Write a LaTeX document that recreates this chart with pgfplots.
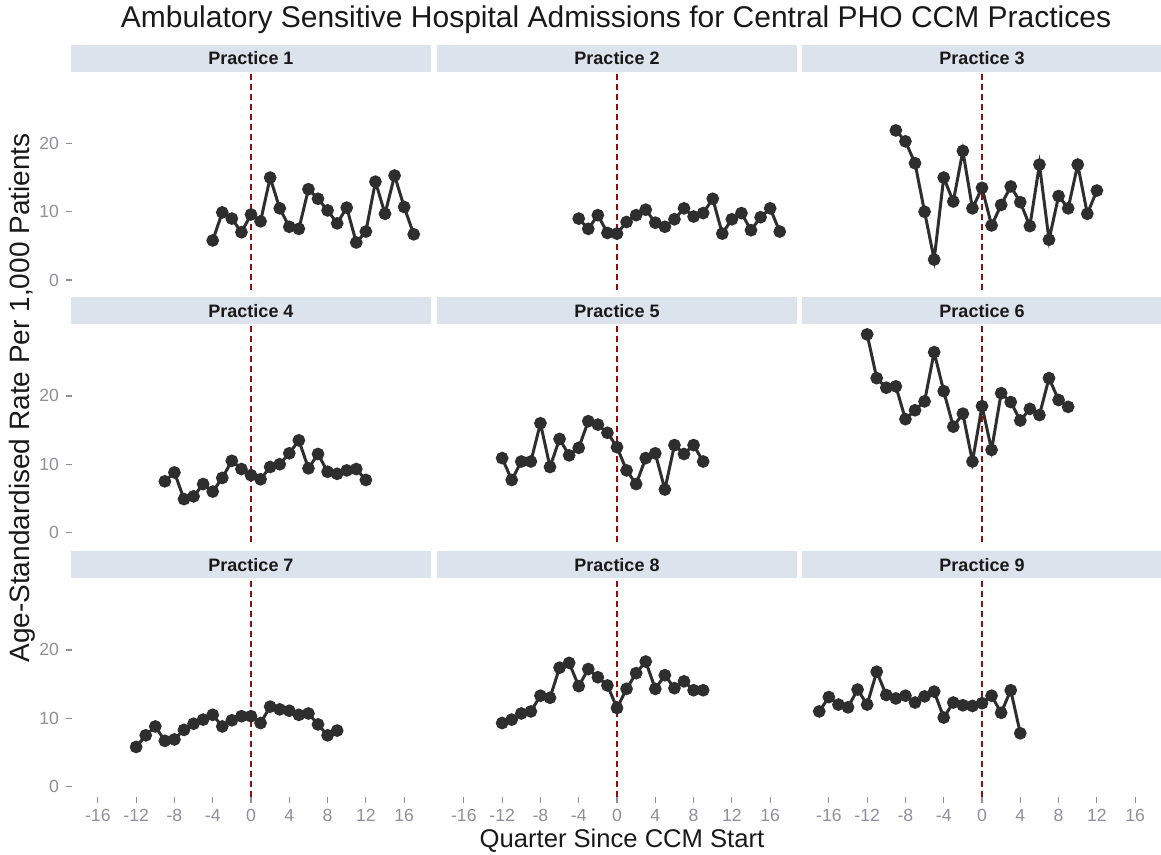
\documentclass[border=0pt]{standalone}
\usepackage{fontspec}
\setmainfont{Liberation Sans}
\usepackage{pgfplots}
\pgfplotsset{compat=1.18}

\definecolor{stripbg}{HTML}{DDE3EC}
\definecolor{tickgray}{HTML}{8E8E9E}
\definecolor{vred}{HTML}{8B1010}
\definecolor{ptcol}{HTML}{2E2E2E}

\pgfplotsset{
  panel/.style={
    scale only axis, width=179pt, height=109pt,
    xmin=-18.7, xmax=18.7, ymin=-1.45, ymax=30.45,
    axis x line*=bottom, axis y line*=left,
    axis line style={draw=none},
    tick align=outside, major tick length=3pt,
    tick style={tickgray, line width=0.6pt},
    xtick=\empty, ytick=\empty,
    ticklabel style={font=\fontsize{8.8}{10}\selectfont, text=tickgray},
    /pgf/number format/assume math mode=true,
    clip=false, anchor=north west,
  },
  leftcol/.style={ytick={0,10,20}},
  bottomrow/.style={xtick={-16,-12,...,16}},
  series/.style={ptcol, line width=1.5pt, mark=*, mark size=2.4pt,
    mark options={fill=ptcol, draw=ptcol, solid}},
  vline/.style={vred, dashed, line width=1pt, dash pattern=on 3pt off 2pt},
}
\newcommand{\strip}[1]{%
  \node[fill=stripbg, minimum width=180pt, minimum height=13.5pt, inner sep=0pt,
    anchor=south, font=\bfseries\fontsize{9}{10}\selectfont, text=black!90]
    at (rel axis cs:0.5,1) {#1};}

\begin{document}
\begin{tikzpicture}
\useasboundingbox (0,0) rectangle (580.5pt,-427.5pt);

\node[font=\fontsize{15}{17}\selectfont, text=black!90] at (308pt,-10pt)
  {Ambulatory Sensitive Hospital Admissions for Central PHO CCM Practices};
\node[rotate=90, font=\fontsize{14}{16}\selectfont, text=black!90] at (11pt,-199pt)
  {Age-Standardised Rate Per 1,000 Patients};
\node[font=\fontsize{12.8}{14}\selectfont, text=black!90] at (311pt,-420.5pt)
  {Quarter Since CCM Start};

% Row 1
\begin{axis}[panel, leftcol, at={(36pt,-36pt)}]
\addplot[series] coordinates {
(-4,5.8) (-3,9.9) (-2,9.0) (-1,7.0) (0,9.6) (1,8.6) (2,15.0) (3,10.5) (4,7.8) (5,7.5) (6,13.3)
(7,11.9) (8,10.2) (9,8.3) (10,10.6) (11,5.5) (12,7.1) (13,14.4) (14,9.7) (15,15.3) (16,10.7) (17,6.7)};
\addplot[vline] coordinates {(0,-1.45) (0,30.45)};
\strip{Practice 1}
\end{axis}

\begin{axis}[panel, at={(219pt,-36pt)}]
\addplot[series] coordinates {
(-4,9.0) (-3,7.5) (-2,9.5) (-1,6.9) (0,6.8) (1,8.5) (2,9.5) (3,10.3) (4,8.4) (5,7.8) (6,8.9)
(7,10.5) (8,9.3) (9,9.8) (10,11.9) (11,6.8) (12,8.9) (13,9.8) (14,7.3) (15,9.2) (16,10.5) (17,7.1)};
\addplot[vline] coordinates {(0,-1.45) (0,30.45)};
\strip{Practice 2}
\end{axis}

\begin{axis}[panel, at={(401.5pt,-36pt)}]
\addplot[series] coordinates {
(-9,21.9) (-8,20.3) (-7,17.1) (-6,10.0) (-5,3.0) (-4,15.0) (-3,11.5) (-2,18.9) (-1,10.5) (0,13.5)
(1,8.0) (2,11.0) (3,13.7) (4,11.4) (5,7.9) (6,16.9) (7,5.9) (8,12.3) (9,10.5) (10,16.9) (11,9.7) (12,13.1)};
\addplot[vline] coordinates {(0,-1.45) (0,30.45)};
\strip{Practice 3}
\end{axis}

% Row 2
\begin{axis}[panel, leftcol, at={(36pt,-162.25pt)}]
\addplot[series] coordinates {
(-9,7.5) (-8,8.8) (-7,4.9) (-6,5.3) (-5,7.1) (-4,6.0) (-3,8.0) (-2,10.5) (-1,9.3) (0,8.4)
(1,7.8) (2,9.6) (3,10.0) (4,11.6) (5,13.5) (6,9.4) (7,11.5) (8,8.9) (9,8.6) (10,9.1) (11,9.3) (12,7.7)};
\addplot[vline] coordinates {(0,-1.45) (0,30.45)};
\strip{Practice 4}
\end{axis}

\begin{axis}[panel, at={(219pt,-162.25pt)}]
\addplot[series] coordinates {
(-12,10.9) (-11,7.7) (-10,10.4) (-9,10.4) (-8,16.0) (-7,9.6) (-6,13.7) (-5,11.3) (-4,12.4) (-3,16.3) (-2,15.8)
(-1,14.6) (0,12.5) (1,9.1) (2,7.1) (3,10.9) (4,11.6) (5,6.3) (6,12.8) (7,11.5) (8,12.8) (9,10.4)};
\addplot[vline] coordinates {(0,-1.45) (0,30.45)};
\strip{Practice 5}
\end{axis}

\begin{axis}[panel, at={(401.5pt,-162.25pt)}]
\addplot[series] coordinates {
(-12,29.0) (-11,22.6) (-10,21.2) (-9,21.4) (-8,16.6) (-7,17.9) (-6,19.2) (-5,26.4) (-4,20.7) (-3,15.5) (-2,17.4)
(-1,10.4) (0,18.5) (1,12.1) (2,20.4) (3,19.1) (4,16.4) (5,18.1) (6,17.2) (7,22.6) (8,19.4) (9,18.4)};
\addplot[vline] coordinates {(0,-1.45) (0,30.45)};
\strip{Practice 6}
\end{axis}

% Row 3
\begin{axis}[panel, leftcol, bottomrow, at={(36pt,-289.25pt)}]
\addplot[series] coordinates {
(-12,5.8) (-11,7.5) (-10,8.8) (-9,6.7) (-8,6.9) (-7,8.3) (-6,9.2) (-5,9.8) (-4,10.5) (-3,8.8) (-2,9.7)
(-1,10.3) (0,10.3) (1,9.3) (2,11.7) (3,11.3) (4,11.1) (5,10.5) (6,10.7) (7,9.1) (8,7.5) (9,8.2)};
\addplot[vline] coordinates {(0,-1.45) (0,30.45)};
\strip{Practice 7}
\end{axis}

\begin{axis}[panel, bottomrow, at={(219pt,-289.25pt)}]
\addplot[series] coordinates {
(-12,9.3) (-11,9.8) (-10,10.7) (-9,11.0) (-8,13.3) (-7,13.0) (-6,17.4) (-5,18.1) (-4,14.7) (-3,17.2) (-2,16.0)
(-1,14.8) (0,11.5) (1,14.3) (2,16.6) (3,18.3) (4,14.3) (5,16.3) (6,14.4) (7,15.4) (8,14.1) (9,14.1)};
\addplot[vline] coordinates {(0,-1.45) (0,30.45)};
\strip{Practice 8}
\end{axis}

\begin{axis}[panel, bottomrow, at={(401.5pt,-289.25pt)}]
\addplot[series] coordinates {
(-17,11.0) (-16,13.1) (-15,12.0) (-14,11.6) (-13,14.2) (-12,12.0) (-11,16.8) (-10,13.4) (-9,12.9) (-8,13.3) (-7,12.3)
(-6,13.2) (-5,13.9) (-4,10.1) (-3,12.3) (-2,11.9) (-1,11.8) (0,12.2) (1,13.3) (2,10.8) (3,14.1) (4,7.8)};
\addplot[vline] coordinates {(0,-1.45) (0,30.45)};
\strip{Practice 9}
\end{axis}
\end{tikzpicture}
\end{document}
